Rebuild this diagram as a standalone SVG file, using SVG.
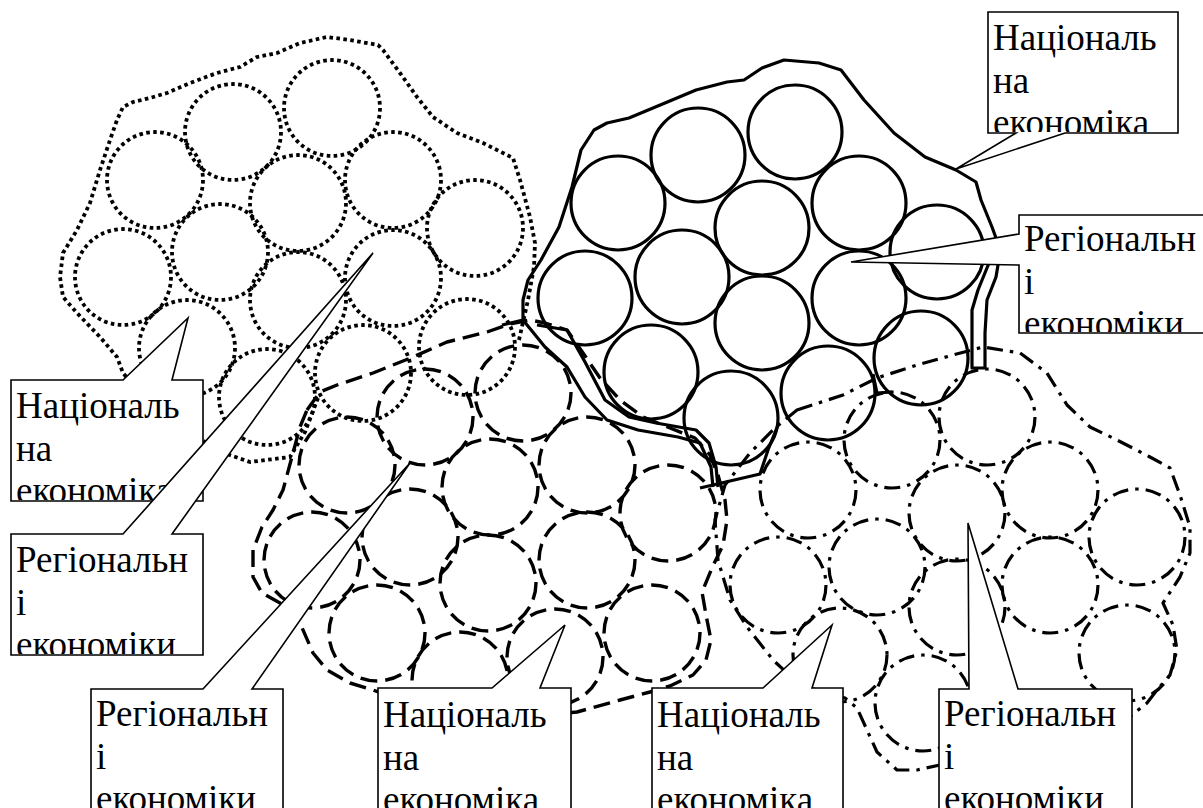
<svg xmlns="http://www.w3.org/2000/svg" width="1203" height="808" viewBox="0 0 1203 808">
<style>
.c{fill:none;stroke:#000;stroke-width:3.2;stroke-linejoin:round}
.dot{stroke-width:3.8;stroke-dasharray:3.6 3.4}
.dash{stroke-width:3.4;stroke-dasharray:17 8}
.dd{stroke-width:3.2;stroke-dasharray:16 7 3.5 7}
.co{fill:#fff;stroke:#000;stroke-width:1.6}
</style>
<rect width="1203" height="808" fill="#fff"/>

<g id="cluster-dotted" class="c dot">
<circle cx="332" cy="108" r="48"/>
<circle cx="233" cy="132" r="48"/>
<circle cx="155" cy="180" r="48"/>
<circle cx="393" cy="180" r="48"/>
<circle cx="298" cy="203" r="48"/>
<circle cx="475" cy="228" r="48"/>
<circle cx="220" cy="252" r="48"/>
<circle cx="123" cy="277" r="48"/>
<circle cx="393" cy="278" r="48"/>
<circle cx="298" cy="300" r="48"/>
<circle cx="187" cy="348" r="48"/>
<circle cx="467" cy="347" r="48"/>
<circle cx="363" cy="373" r="48"/>
<circle cx="267" cy="397" r="48"/>
<path d="M318,398 L305,432 L290,457 L250,462 L215,450 L190,430 L150,405 L123,373 L117,357 L100,337 L77,313 L63,297 L60,277 L63,253 L77,230 L90,203 L100,170 L110,140 L117,120 L123,107 L133,102 L150,98 L167,93 L190,83 L217,73 L240,67 L257,57 L277,53 L300,43 L327,37 L350,40 L378,45 L383,50 L400,73 L417,97 L433,117 L457,133 L483,143 L513,158 L520,180 L530,217 L535,243 L534,267 L528,300 L519,340"/>
</g>

<g id="cluster-dashed" class="c dash">
<circle cx="523" cy="393" r="48"/>
<circle cx="425" cy="417" r="48"/>
<circle cx="347" cy="465" r="48"/>
<circle cx="490" cy="487" r="48"/>
<circle cx="587" cy="465" r="48"/>
<circle cx="312" cy="560" r="48"/>
<circle cx="410" cy="537" r="48"/>
<circle cx="668" cy="513" r="48"/>
<circle cx="587" cy="560" r="48"/>
<circle cx="488" cy="583" r="48"/>
<circle cx="377" cy="633" r="48"/>
<circle cx="652" cy="633" r="48"/>
<circle cx="555" cy="657" r="48"/>
<circle cx="460" cy="680" r="48"/>
<path d="M307,410 L320,392 L337,385 L373,373 L413,357 L447,342 L487,332 L510,324 L530,320 L545,323 L567,330 L583,353 L600,378 L620,400 L643,417 L670,428 L695,438 L710,455 L718,475 L725,500 L727,520 L723,545 L712,568 L702,592 L706,615 L711,640 L706,660 L693,675 L670,686 L650,692 L620,700 L577,712 L520,718 L450,715 L400,700 L373,690 L350,683 L327,670 L313,653 L300,623 L280,603 L262,593 L253,577 L253,550 L262,527 L273,510 L283,490 L293,453 L300,427 Z"/>
</g>

<g id="cluster-dashdot" class="c dd">
<circle cx="987" cy="417" r="48"/>
<circle cx="892" cy="440" r="48"/>
<circle cx="808" cy="490" r="48"/>
<circle cx="1050" cy="490" r="48"/>
<circle cx="957" cy="513" r="48"/>
<circle cx="1137" cy="537" r="48"/>
<circle cx="778" cy="585" r="48"/>
<circle cx="877" cy="567" r="48"/>
<circle cx="1050" cy="585" r="48"/>
<circle cx="957" cy="607" r="48"/>
<circle cx="1127" cy="653" r="48"/>
<circle cx="923" cy="703" r="48"/>
<circle cx="840" cy="655" r="47"/>
<path d="M797,410 L843,395 L877,378 L917,365 L953,355 L983,347 L1020,353 L1047,373 L1067,405 L1090,427 L1117,440 L1150,457 L1170,468 L1180,495 L1190,527 L1190,553 L1180,577 L1163,603 L1173,625 L1177,650 L1170,675 L1157,690 L1147,703 L1100,740 L1000,762 L940,765 L917,770 L897,770 L877,752 L867,730 L857,708 L845,698 L800,685 L773,660 L747,627 L730,600 L718,560 L715,520 L725,485 L750,453 L775,428 Z"/>
</g>

<g id="cluster-solid" class="c">
<circle cx="795" cy="132" r="47"/>
<circle cx="698" cy="155" r="47"/>
<circle cx="618" cy="203" r="47"/>
<circle cx="859" cy="203" r="47"/>
<circle cx="762" cy="228" r="47"/>
<circle cx="937" cy="252" r="47"/>
<circle cx="585" cy="298" r="47"/>
<circle cx="682" cy="277" r="47"/>
<circle cx="859" cy="298" r="47"/>
<circle cx="762" cy="323" r="47"/>
<circle cx="651" cy="372" r="47"/>
<circle cx="731" cy="418" r="47"/>
<circle cx="828" cy="393" r="47"/>
<circle cx="921" cy="358" r="47"/>
<path d="M994,240 L989,263 L978,290 L972,310 L972,368 L985,368 L985,333 L987,300 L996,277 L1000,253 L996,238 L992,227 L981,200 L976,182 L956,170 L925,157 L894,133 L864,100 L841,70 L819,63 L784,60 L762,68 L744,80 L727,82 L696,90 L665,103 L629,118 L607,123 L594,130 L581,150 L572,187 L559,227 L541,260 L528,280 L523,300 L523,320 L545,347 L567,367 L585,397 L607,420 L638,430 L678,437 L700,443 L711,467 L713,487"/>
<path d="M537,325 L567,330 L585,362 L605,400 L629,417 L656,423 L696,430 L709,443 L716,467 L718,487"/>
<path d="M502,325 L523,320"/>
<path d="M700,488 L760,474 L768,450 L778,425"/>
<path d="M873,374 L877,393 L892,392"/>
</g>

<g id="connectors"></g>

<g id="callout-national-1">
<polygon class="co" points="988,12 1178,12 1178,133 1065,133 956,169 1016,133 988,133"/>
<svg x="989" y="13" width="188" height="119" overflow="hidden"><text x="4" y="37" font-family="Liberation Serif" font-size="37" fill="#000" style="font-family:'Liberation Serif',serif !important">Національ</text><text x="4" y="79.5" font-family="Liberation Serif" font-size="37" fill="#000" style="font-family:'Liberation Serif',serif !important">на</text><text x="4" y="122" font-family="Liberation Serif" font-size="37" fill="#000" style="font-family:'Liberation Serif',serif !important">економіка</text></svg>
</g>
<g id="callout-regional-1">
<polygon class="co" points="1019,215 1212,215 1212,333 1019,333 1019,265 851,262 1019,234"/>
<svg x="1020" y="216" width="190" height="116" overflow="hidden"><text x="4" y="35" font-family="Liberation Serif" font-size="37" fill="#000" style="font-family:'Liberation Serif',serif !important">Регіональн</text><text x="4" y="77.5" font-family="Liberation Serif" font-size="37" fill="#000" style="font-family:'Liberation Serif',serif !important">і</text><text x="4" y="120" font-family="Liberation Serif" font-size="37" fill="#000" style="font-family:'Liberation Serif',serif !important">економіки</text></svg>
</g>
<g id="callout-national-2">
<polygon class="co" points="11,380 123,380 188,318 172,380 203,380 203,501 11,501"/>
<svg x="12" y="381" width="190" height="119" overflow="hidden"><text x="4" y="37" font-family="Liberation Serif" font-size="37" fill="#000" style="font-family:'Liberation Serif',serif !important">Національ</text><text x="4" y="79.5" font-family="Liberation Serif" font-size="37" fill="#000" style="font-family:'Liberation Serif',serif !important">на</text><text x="4" y="122" font-family="Liberation Serif" font-size="37" fill="#000" style="font-family:'Liberation Serif',serif !important">економіка</text></svg>
</g>
<g id="callout-regional-2">
<polygon class="co" points="11,534 123,534 373,253 172,534 203,534 203,655 11,655"/>
<svg x="12" y="535" width="190" height="119" overflow="hidden"><text x="4" y="37" font-family="Liberation Serif" font-size="37" fill="#000" style="font-family:'Liberation Serif',serif !important">Регіональн</text><text x="4" y="79.5" font-family="Liberation Serif" font-size="37" fill="#000" style="font-family:'Liberation Serif',serif !important">і</text><text x="4" y="122" font-family="Liberation Serif" font-size="37" fill="#000" style="font-family:'Liberation Serif',serif !important">економіки</text></svg>
</g>
<g id="callout-regional-3">
<polygon class="co" points="91,689 203,689 410,463 252,689 283,689 283,815 91,815"/>
<svg x="92" y="690" width="190" height="130" overflow="hidden"><text x="4" y="36" font-family="Liberation Serif" font-size="37" fill="#000" style="font-family:'Liberation Serif',serif !important">Регіональн</text><text x="4" y="78.5" font-family="Liberation Serif" font-size="37" fill="#000" style="font-family:'Liberation Serif',serif !important">і</text><text x="4" y="121" font-family="Liberation Serif" font-size="37" fill="#000" style="font-family:'Liberation Serif',serif !important">економіки</text></svg>
</g>
<g id="callout-national-3">
<polygon class="co" points="378,688 492,688 565,625 540,688 571,688 571,815 378,815"/>
<svg x="379" y="689" width="191" height="130" overflow="hidden"><text x="4" y="38" font-family="Liberation Serif" font-size="37" fill="#000" style="font-family:'Liberation Serif',serif !important">Національ</text><text x="4" y="80.5" font-family="Liberation Serif" font-size="37" fill="#000" style="font-family:'Liberation Serif',serif !important">на</text><text x="4" y="123" font-family="Liberation Serif" font-size="37" fill="#000" style="font-family:'Liberation Serif',serif !important">економіка</text></svg>
</g>
<g id="callout-national-4">
<polygon class="co" points="652,688 763,688 832,625 812,688 843,688 843,815 652,815"/>
<svg x="653" y="689" width="189" height="130" overflow="hidden"><text x="4" y="38" font-family="Liberation Serif" font-size="37" fill="#000" style="font-family:'Liberation Serif',serif !important">Національ</text><text x="4" y="80.5" font-family="Liberation Serif" font-size="37" fill="#000" style="font-family:'Liberation Serif',serif !important">на</text><text x="4" y="123" font-family="Liberation Serif" font-size="37" fill="#000" style="font-family:'Liberation Serif',serif !important">економіка</text></svg>
</g>
<g id="callout-regional-4">
<polygon class="co" points="939,689 969,689 968,523 1018,689 1132,689 1132,815 939,815"/>
<svg x="940" y="690" width="191" height="130" overflow="hidden"><text x="4" y="36" font-family="Liberation Serif" font-size="37" fill="#000" style="font-family:'Liberation Serif',serif !important">Регіональн</text><text x="4" y="78.5" font-family="Liberation Serif" font-size="37" fill="#000" style="font-family:'Liberation Serif',serif !important">і</text><text x="4" y="121" font-family="Liberation Serif" font-size="37" fill="#000" style="font-family:'Liberation Serif',serif !important">економіки</text></svg>
</g>
</svg>
